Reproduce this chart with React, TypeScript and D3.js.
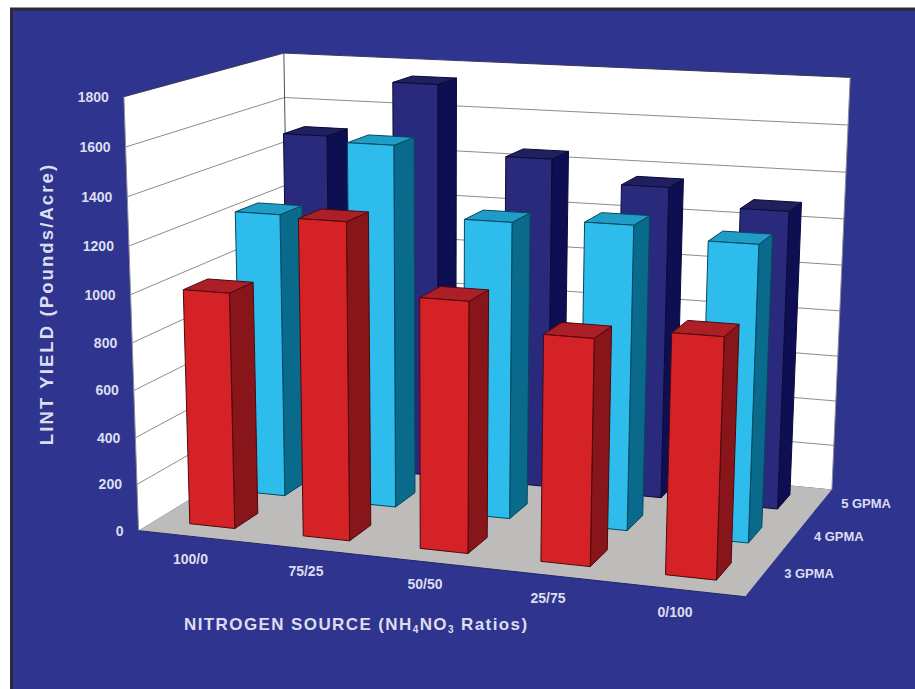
import React from "react";
import * as d3 from "d3";

// Lint yield by nitrogen source and flow rate
const categories = ["100/0", "75/25", "50/50", "25/75", "0/100"];
const rates = ["3 GPMA", "4 GPMA", "5 GPMA"];
const yield3 = [1000, 1325, 1040, 930, 976];
const yield4 = [1235, 1555, 1265, 1285, 1240];
const yield5 = [1495, 1742, 1448, 1356, 1285];
const seriesValues = [yield3, yield4, yield5];
const yTicks = [0, 200, 400, 600, 800, 1000, 1200, 1400, 1600, 1800];

const faces = [
  { front: "#d42226", side: "#87151a", top: "#ad1f26", edge: "#4a0a0c" },
  { front: "#2dbcec", side: "#0a6a8c", top: "#1f9dc6", edge: "#06485f" },
  { front: "#2a2a7c", side: "#0e0e52", top: "#20205f", edge: "#0a0a3a" },
];

// Camera calibration: unit box corners (category, value, depth) and their screen positions.
const calibration: [number, number, number, number, number][] = [
  [0, 0, 0, 140, 528],
  [1, 0, 0, 745, 600],
  [1, 0, 1, 832, 487],
  [0, 0, 1, 289, 442],
  [0, 1, 0, 122, 98],
  [0, 1, 1, 285, 52],
  [1, 1, 1, 851, 80],
  [0, 1000 / 1800, 0, 131, 293],
  [1, 1000 / 1800, 1, 841, 262],
];

function solveLinear(A: number[][], b: number[]) {
  const n = b.length;
  const M = A.map((r, i) => [...r, b[i]]);
  for (let c = 0; c < n; c++) {
    let piv = c;
    for (let r = c + 1; r < n; r++) if (Math.abs(M[r][c]) > Math.abs(M[piv][c])) piv = r;
    [M[c], M[piv]] = [M[piv], M[c]];
    for (let r = 0; r < n; r++) {
      if (r === c) continue;
      const f = M[r][c] / M[c][c];
      for (let k = c; k <= n; k++) M[r][k] -= f * M[c][k];
    }
  }
  return M.map((r, i) => r[n] / r[i]);
}

function fitCamera() {
  const rows: number[][] = [];
  const rhs: number[] = [];
  for (const [X, Y, Z, px, py] of calibration) {
    const u = px / 1000;
    const v = py / 1000;
    rows.push([X, Y, Z, 1, 0, 0, 0, 0, -u * X, -u * Y, -u * Z]);
    rhs.push(u);
    rows.push([0, 0, 0, 0, X, Y, Z, 1, -v * X, -v * Y, -v * Z]);
    rhs.push(v);
  }
  const N = 11;
  const AtA = d3.range(N).map((i) => d3.range(N).map((j) => d3.sum(rows, (r) => r[i] * r[j])));
  const Atb = d3.range(N).map((i) => d3.sum(rows, (r, k) => r[i] * rhs[k]));
  return solveLinear(AtA, Atb);
}

const cam = fitCamera();
const project = (x: number, y: number, z: number): [number, number] => {
  const w = cam[8] * x + cam[9] * y + cam[10] * z + 1;
  return [
    (1000 * (cam[0] * x + cam[1] * y + cam[2] * z + cam[3])) / w,
    (1000 * (cam[4] * x + cam[5] * y + cam[6] * z + cam[7])) / w,
  ];
};

const xScale = d3.scaleBand<string>().domain(categories).range([0.001, 1]).paddingInner(0.6).paddingOuter(0.3);
const zScale = d3.scaleBand<string>().domain(rates).range([0.012, 1]).paddingInner(0.55).paddingOuter(0.275);
const yScale = d3.scaleLinear().domain([0, 1800]).range([0, 1]);

const lineGen = d3.line<[number, number]>();
const poly = (pts: [number, number, number][]) => lineGen(pts.map((p) => project(p[0], p[1], p[2]))) + "Z";

const INK = "#dcdef0";
const FONT = "'Liberation Sans', Arial, sans-serif";

function Bar({ cat, rate, value, c }: { cat: string; rate: string; value: number; c: (typeof faces)[number] }) {
  const x0 = xScale(cat)!;
  const x1 = x0 + xScale.bandwidth();
  const z0 = zScale(rate)!;
  const z1 = z0 + zScale.bandwidth();
  const h = yScale(value);
  const common = { stroke: c.edge, strokeWidth: 1, strokeLinejoin: "round" as const };
  return (
    <g>
      <path d={poly([[x1, 0, z0], [x1, 0, z1], [x1, h, z1], [x1, h, z0]])} fill={c.side} {...common} />
      <path d={poly([[x0, h, z0], [x1, h, z0], [x1, h, z1], [x0, h, z1]])} fill={c.top} {...common} />
      <path d={poly([[x0, 0, z0], [x1, 0, z0], [x1, h, z0], [x0, h, z0]])} fill={c.front} {...common} />
    </g>
  );
}

export default function App() {
  return (
    <svg
      width={915}
      height={689}
      viewBox="0 0 915 689"
      style={{ position: "absolute", left: 0, top: 0, display: "block" }}
    >
      <rect x={0} y={0} width={915} height={689} fill="#ffffff" />
      <rect x={11} y={9} width={904} height={680} fill="#2f348f" />
      <path d="M11.5,689 V9 H915" fill="none" stroke="#2b2b33" strokeWidth={3} />

      {/* Walls and floor */}
      <path d={poly([[0, 0, 0], [0, 1, 0], [0, 1, 1], [0, 0, 1]])} fill="#ffffff" />
      <path d={poly([[0, 0, 1], [0, 1, 1], [1, 1, 1], [1, 0, 1]])} fill="#ffffff" />
      <path d={poly([[0, 0, 0], [1, 0, 0], [1, 0, 1], [0, 0, 1]])} fill="#bdbcba" />

      {yTicks.slice(1).map((t) => {
        const y = yScale(t);
        return (
          <path
            key={t}
            d={lineGen([project(0, y, 0), project(0, y, 1), project(1, y, 1)])!}
            fill="none"
            stroke={t === 1800 ? "#3a3a55" : "#8e8c86"}
            strokeWidth={1}
          />
        );
      })}
      <path d={lineGen([project(0, 0, 1), project(0, 1, 1)])!} fill="none" stroke="#55555f" strokeWidth={1} />
      <path d={lineGen([project(0, 0, 0), project(0, 1, 0)])!} fill="none" stroke="#8e8c96" strokeWidth={1} />
      <path d={lineGen([project(1, 0, 1), project(1, 1, 1)])!} fill="none" stroke="#8e8c96" strokeWidth={1} />
      <path d={lineGen([project(0, 0, 0), project(1, 0, 0)])!} fill="none" stroke="#23266e" strokeWidth={1} />

      {/* Bars, back row first so nearer rows cover it */}
      {d3.range(rates.length - 1, -1, -1).map((s) => (
        <g key={rates[s]}>
          {categories.map((cat, i) => (
            <Bar key={cat} cat={cat} rate={rates[s]} value={seriesValues[s][i]} c={faces[s]} />
          ))}
        </g>
      ))}

      {/* Value axis labels */}
      <g fontFamily={FONT} fontWeight={700} fontSize={14} fill={INK} textAnchor="end">
        {yTicks.map((t) => {
          const [px, py] = project(0, yScale(t), 0);
          return (
            <text key={t} x={px - 15} y={py} dy="0.35em">
              {t}
            </text>
          );
        })}
      </g>

      {/* Category labels */}
      <g fontFamily={FONT} fontWeight={700} fontSize={14} fill={INK} textAnchor="middle">
        {categories.map((cat) => {
          const [px, py] = project(xScale(cat)! + xScale.bandwidth() / 2, 0, 0);
          return (
            <text key={cat} x={px - 5} y={py + 22} dy="0.35em">
              {cat}
            </text>
          );
        })}
      </g>

      {/* Depth labels */}
      <g fontFamily={FONT} fontWeight={700} fontSize={13} fill={INK}>
        {rates.map((r) => {
          const [px, py] = project(1, 0, zScale(r)! + zScale.bandwidth() / 2);
          return (
            <text key={r} x={px + 22} y={py - 2} dy="0.35em">
              {r}
            </text>
          );
        })}
      </g>

      {/* Axis titles */}
      <text
        transform="translate(53,304) rotate(-90)"
        textAnchor="middle"
        fontFamily={FONT}
        fontWeight={700}
        fontSize={18.5}
        letterSpacing={2.1}
        fill={INK}
      >
        LINT YIELD (Pounds/Acre)
      </text>
      <text x={184} y={630} fontFamily={FONT} fontWeight={700} fontSize={17} letterSpacing={1.4} fill={INK}>
        NITROGEN SOURCE (NH
        <tspan fontSize={10} dy={3}>4</tspan>
        <tspan dy={-3}>NO</tspan>
        <tspan fontSize={10} dy={3}>3</tspan>
        <tspan dy={-3}> Ratios)</tspan>
      </text>
    </svg>
  );
}
